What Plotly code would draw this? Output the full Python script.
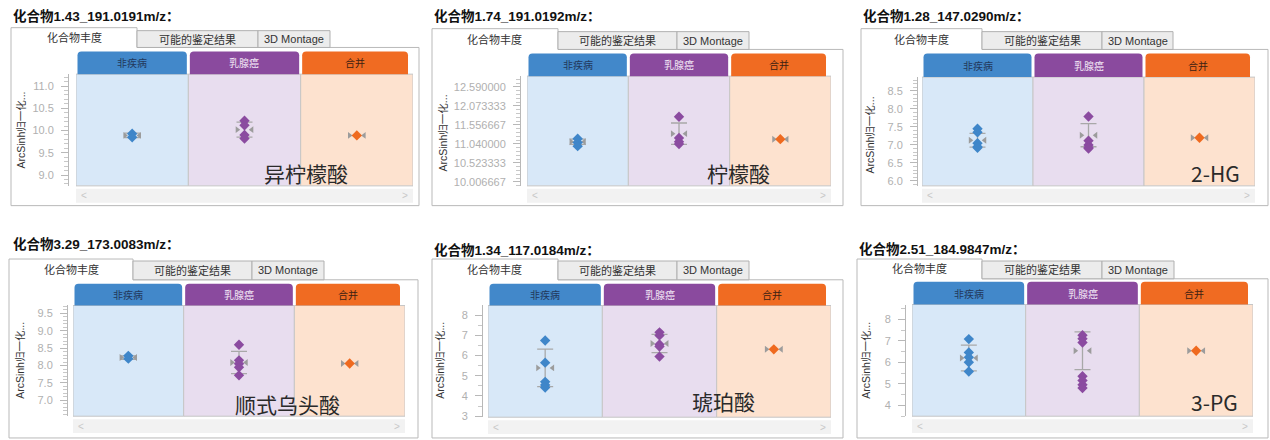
import plotly.graph_objects as go

W, H = 1270, 440


def X(px):
    return px / W


def Y(py):
    return 1 - py / H


# ---------------- data ----------------
groups = ["非疾病", "乳腺癌", "合并"]
tab_names = ["化合物丰度", "可能的鉴定结果", "3D Montage"]
y_title = "ArcSinh归一化..."

panel_titles = ["化合物1.43_191.0191m/z：", "化合物1.74_191.0192m/z：", "化合物1.28_147.0290m/z：",
                "化合物3.29_173.0083m/z：", "化合物1.34_117.0184m/z：", "化合物2.51_184.9847m/z："]
compound_names = ["异柠檬酸", "柠檬酸", "2-HG", "顺式乌头酸", "琥珀酸", "3-PG"]

isocitric_points = [[9.93, 9.85], [10.22, 10.12, 9.90, 9.82], [9.89]]
isocitric_mean = [9.89, 10.02, 9.89]
isocitric_sd = [0.05, 0.17, 0.0]
isocitric_ticks = [9.0, 9.5, 10.0, 10.5, 11.0]
isocitric_ticktext = ["9.0", "9.5", "10.0", "10.5", "11.0"]

citric_points = [[11.18, 11.08, 10.98], [11.78, 11.20, 11.10, 11.04], [11.17]]
citric_mean = [11.10, 11.32, 11.17]
citric_sd = [0.07, 0.29, 0.0]
citric_ticks = [10.006667, 10.523333, 11.04, 11.556667, 12.073333, 12.59]
citric_ticktext = ["10.006667", "10.523333", "11.040000", "11.556667", "12.073333", "12.590000"]

hg_points = [[7.45, 7.35, 7.05, 6.95, 6.92], [7.79, 7.12, 7.00, 6.93, 6.90], [7.20]]
hg_mean = [7.13, 7.27, 7.20]
hg_sd = [0.19, 0.32, 0.0]
hg_ticks = [6.0, 6.5, 7.0, 7.5, 8.0, 8.5]
hg_ticktext = ["6.0", "6.5", "7.0", "7.5", "8.0", "8.5"]

aconitic_points = [[8.28, 8.20], [8.60, 8.15, 8.05, 7.95, 7.72], [8.06]]
aconitic_mean = [8.23, 8.09, 8.06]
aconitic_sd = [0.05, 0.32, 0.0]
aconitic_ticks = [7.0, 7.5, 8.0, 8.5, 9.0, 9.5]
aconitic_ticktext = ["7.0", "7.5", "8.0", "8.5", "9.0", "9.5"]

succinic_points = [[6.75, 5.65, 4.70, 4.55, 4.42], [7.15, 7.00, 6.55, 6.45, 5.95], [6.31]]
succinic_mean = [5.39, 6.60, 6.31]
succinic_sd = [0.93, 0.45, 0.0]
succinic_ticks = [3, 4, 5, 6, 7, 8]
succinic_ticktext = ["3", "4", "5", "6", "7", "8"]

pg_points = [[7.08, 6.46, 6.23, 6.00, 5.57], [7.26, 7.10, 6.92, 5.35, 5.15, 4.95, 4.80], [6.54]]
pg_mean = [6.20, 6.54, 6.54]
pg_sd = [0.60, 0.88, 0.0]
pg_ticks = [4, 5, 6, 7, 8]
pg_ticktext = ["4", "5", "6", "7", "8"]

# ---------------- styles / layout geometry (pixels) ----------------
header_colors = ["#4288ca", "#8a4a9e", "#f06b22"]
header_text_colors = ["#22395c", "#f1e6f5", "#3c2112"]
facet_bg = ["#d8e8f8", "#e8ddef", "#fde2cf"]
point_colors = ["#3f86c9", "#8b4ba0", "#ef6a1f"]
CJK = "Noto Sans CJK SC"
LAT = "Liberation Sans, Noto Sans CJK SC"

panels = [
    dict(points=isocitric_points, mean=isocitric_mean, sd=isocitric_sd, ticks=isocitric_ticks,
         ticktext=isocitric_ticktext, yrange=[8.756, 11.267], minor=0.1, minor0=9.0,
         title_xy=(11, 16), frame=(11, 48, 419, 208), tabs=(11, 137, 258, 330), tab_tops=(28, 31),
         plot=(76, 413, 75, 188), head_top=52, axis_x=68, ytitle_xy=(20, 132), label_xy=(306, 175)),
    dict(points=citric_points, mean=citric_mean, sd=citric_sd, ticks=citric_ticks,
         ticktext=citric_ticktext, yrange=[9.899, 12.886], minor=0.516667 / 5, minor0=10.006667,
         title_xy=(432, 16), frame=(432, 50, 843, 208), tabs=(432, 558, 677, 749), tab_tops=(29, 32),
         plot=(527, 831, 77, 188), head_top=54, axis_x=520, ytitle_xy=(443, 135), label_xy=(738, 175)),
    dict(points=hg_points, mean=hg_mean, sd=hg_sd, ticks=hg_ticks,
         ticktext=hg_ticktext, yrange=[5.863, 8.885], minor=0.1, minor0=6.0,
         title_xy=(861, 16), frame=(861, 50, 1268, 208), tabs=(861, 982, 1102, 1173), tab_tops=(29, 32),
         plot=(922, 1255, 78, 188), head_top=54, axis_x=917, ytitle_xy=(870, 137), label_xy=(1215, 175)),
    dict(points=aconitic_points, mean=aconitic_mean, sd=aconitic_sd, ticks=aconitic_ticks,
         ticktext=aconitic_ticktext, yrange=[6.545, 9.727], minor=0.1, minor0=7.0,
         title_xy=(11, 247), frame=(9, 283, 418, 443), tabs=(9, 133, 252, 324), tab_tops=(262, 264),
         plot=(73, 405, 309, 421), head_top=287, axis_x=67, ytitle_xy=(20, 365), label_xy=(287, 409)),
    dict(points=succinic_points, mean=succinic_mean, sd=succinic_sd, ticks=succinic_ticks,
         ticktext=succinic_ticktext, yrange=[2.95, 8.48], minor=0.5, minor0=3,
         title_xy=(432, 253), frame=(432, 283, 843, 443), tabs=(432, 558, 677, 749), tab_tops=(262, 264),
         plot=(488, 831, 309, 422), head_top=287, axis_x=482, ytitle_xy=(440, 365), label_xy=(723, 406)),
    dict(points=pg_points, mean=pg_mean, sd=pg_sd, ticks=pg_ticks,
         ticktext=pg_ticktext, yrange=[3.49, 8.69], minor=0.5, minor0=4,
         title_xy=(857, 252), frame=(857, 282, 1268, 443), tabs=(857, 982, 1102, 1174), tab_tops=(262, 264),
         plot=(912, 1253, 308, 421), head_top=285, axis_x=905, ytitle_xy=(866, 365), label_xy=(1214, 407)),
]

fig = go.Figure()
shapes, annos = [], []
layout_axes = {}
DX = 0.065  # offset of the mean markers from the group centre (axis units)


def note(x, y, text, size, color, family, **kw):
    d = dict(x=x, y=y, xref="paper", yref="paper", text=text, showarrow=False,
             xanchor="center", yanchor="middle", font=dict(size=size, color=color, family=family))
    d.update(kw)
    return d


for i, p in enumerate(panels):
    n = i + 1
    xa = "x" if n == 1 else f"x{n}"
    ya = "y" if n == 1 else f"y{n}"
    pl, pr, pt, pb = p["plot"]
    fl, ft, fr, fb = p["frame"]
    t0, t1, t2, t3 = p["tabs"]
    at, it = p["tab_tops"]

    # panel title
    annos.append(note(X(p["title_xy"][0]), Y(p["title_xy"][1]), "<b>" + panel_titles[i] + "</b>",
                      13.5, "#111", LAT, xanchor="left"))
    # frame + active tab outline
    path = (f"M {X(fl)},{Y(fb)} L {X(fl)},{Y(at)} L {X(t1)},{Y(at)} L {X(t1)},{Y(ft)} "
            f"L {X(fr)},{Y(ft)} L {X(fr)},{Y(fb)} Z")
    shapes.append(dict(type="path", path=path, xref="paper", yref="paper", fillcolor="white",
                       line=dict(color="#b9b9b9", width=1), layer="below"))
    for (a, b) in [(t1, t2), (t2, t3)]:
        shapes.append(dict(type="rect", xref="paper", yref="paper", x0=X(a), x1=X(b), y0=Y(ft), y1=Y(it),
                           fillcolor="#ececec", line=dict(color="#b0b0b0", width=1), layer="below"))
    for (a, b), name in zip([(t0, t1), (t1, t2), (t2, t3)], tab_names):
        top = at if a == t0 else it
        annos.append(note(X((a + b) / 2), Y((top + ft) / 2), name, 11, "#333", LAT))

    # facet backgrounds (axis coordinates)
    for k in range(3):
        shapes.append(dict(type="rect", xref=xa, yref=f"{ya} domain", x0=k - 0.5, x1=k + 0.5, y0=0, y1=1,
                           fillcolor=facet_bg[k], line=dict(color="#c6c6c6", width=1), layer="below"))
    # headers with rounded top corners
    fw = (pr - pl) / 3
    rx, ry = 4 / W, 4 / H
    for k in range(3):
        hx0 = X(pl + k * fw + 1.5)
        hx1 = X(pl + (k + 1) * fw - (1.5 if k < 2 else 5))
        yb, yt = Y(pt), Y(p["head_top"])
        hp = (f"M {hx0},{yb} L {hx0},{yt - ry} Q {hx0},{yt} {hx0 + rx},{yt} L {hx1 - rx},{yt} "
              f"Q {hx1},{yt} {hx1},{yt - ry} L {hx1},{yb} Z")
        shapes.append(dict(type="path", path=hp, xref="paper", yref="paper", fillcolor=header_colors[k],
                           line=dict(width=0), layer="below"))
        annos.append(note((hx0 + hx1) / 2, Y((pt + p["head_top"]) / 2), groups[k], 10,
                          header_text_colors[k], CJK))
    # scrollbar
    shapes.append(dict(type="rect", xref="paper", yref="paper", x0=X(pl), x1=X(pr), y0=Y(pb + 17),
                       y1=Y(pb + 3), fillcolor="#f2f2f2", line=dict(width=0), layer="below"))
    annos.append(note(X(pl + 8), Y(pb + 10), "&lt;", 10, "#c8c8c8", LAT))
    annos.append(note(X(pr - 8), Y(pb + 10), "&gt;", 10, "#c8c8c8", LAT))
    # y title
    annos.append(note(X(p["ytitle_xy"][0]), Y(p["ytitle_xy"][1]), y_title, 10.5, "#333", LAT,
                      textangle=-90))
    # compound label
    annos.append(note(X(p["label_xy"][0]), Y(p["label_xy"][1]), compound_names[i], 21, "#2a2a2a", CJK))

    # data
    for k in range(3):
        if p["sd"][k] > 0:
            fig.add_trace(go.Scatter(x=[k], y=[p["mean"][k]], mode="markers",
                                     marker=dict(size=1, color="rgba(0,0,0,0)"),
                                     error_y=dict(type="data", array=[p["sd"][k]], color="#a8a8a8",
                                                  thickness=1.3, width=8),
                                     xaxis=xa, yaxis=ya, showlegend=False, hoverinfo="skip"))
        fig.add_trace(go.Scatter(x=[k - DX, k + DX], y=[p["mean"][k], p["mean"][k]], mode="markers",
                                 marker=dict(symbol=["triangle-right", "triangle-left"], size=6,
                                             color="#9c9c9c"),
                                 xaxis=xa, yaxis=ya, showlegend=False, hoverinfo="skip"))
        fig.add_trace(go.Scatter(x=[k] * len(p["points"][k]), y=p["points"][k], mode="markers",
                                 marker=dict(symbol="diamond", size=8, color=point_colors[k]),
                                 xaxis=xa, yaxis=ya, showlegend=False, name=groups[k]))

    xkey = "xaxis" if n == 1 else f"xaxis{n}"
    ykey = "yaxis" if n == 1 else f"yaxis{n}"
    layout_axes[xkey] = dict(domain=[X(pl), X(pr)], range=[-0.5, 2.5], visible=False, anchor=ya,
                             fixedrange=True)
    layout_axes[ykey] = dict(domain=[Y(pb), Y(pt)], range=p["yrange"], anchor="free", position=X(p["axis_x"]),
                             tickmode="array", tickvals=p["ticks"], ticktext=p["ticktext"],
                             ticks="outside", ticklen=7, tickcolor="#b8b8b8", showline=True,
                             linecolor="#b8b8b8", showgrid=False, zeroline=False, fixedrange=True,
                             tickfont=dict(size=11, color="#b0b0b0", family=LAT), ticklabelstandoff=5,
                             minor=dict(dtick=p["minor"], tick0=p["minor0"], ticks="outside", ticklen=4,
                                        tickcolor="#c8c8c8", showgrid=False))

fig.update_layout(width=W, height=H, margin=dict(l=0, r=0, t=0, b=0), paper_bgcolor="white",
                  plot_bgcolor="rgba(0,0,0,0)", showlegend=False, shapes=shapes, annotations=annos,
                  font=dict(family=LAT), **layout_axes)

fig.write_html("out.html", config={"displayModeBar": False},
               post_script="document.body.style.margin='0px';document.body.style.overflow='hidden';")
